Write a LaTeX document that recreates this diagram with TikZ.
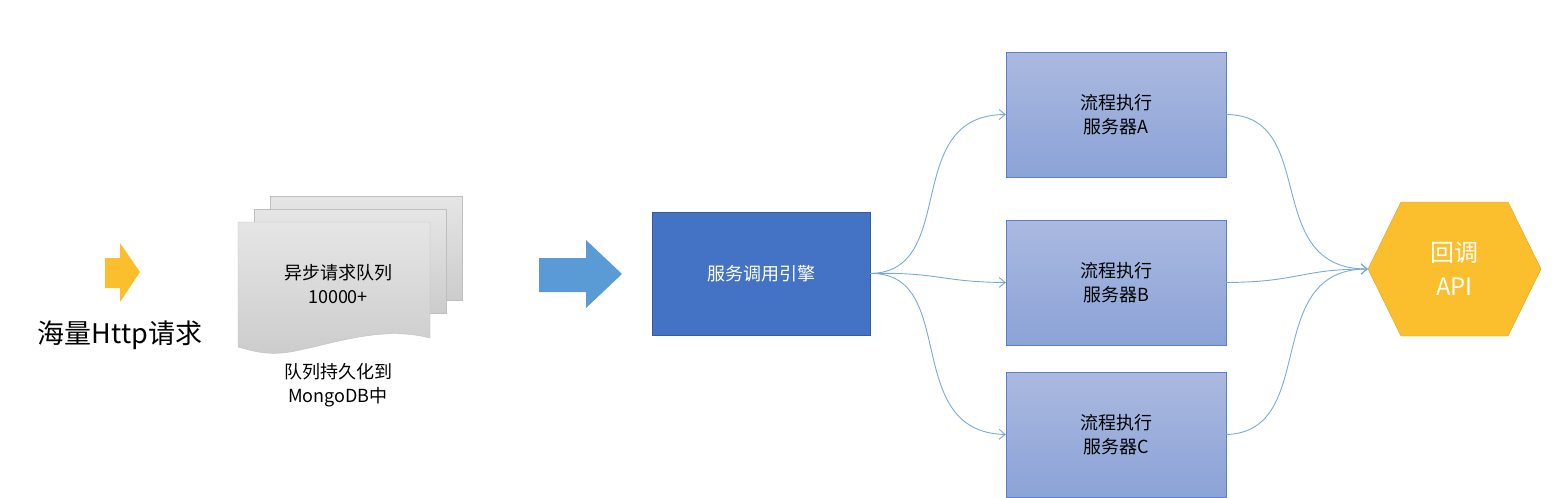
\documentclass[tikz,border=0pt]{standalone}
\usepackage{fontspec}
\newfontfamily\cjk{Noto Sans CJK SC}
\usetikzlibrary{arrows.meta,shapes.geometric}
\definecolor{qyellow}{RGB}{251,191,45}
\definecolor{qblue}{RGB}{91,155,213}
\definecolor{engblue}{RGB}{68,114,196}
\definecolor{srvtop}{RGB}{170,185,224}
\definecolor{srvbot}{RGB}{140,163,215}
\definecolor{srvline}{RGB}{91,127,208}
\definecolor{linkblue}{RGB}{122,170,220}
\tikzset{
  srv/.style={shape=rectangle,draw=srvline,top color=srvtop,bottom color=srvbot,minimum width=220pt,minimum height=125pt,align=center,font=\cjk\fontsize{18}{24}\selectfont},
  link/.style={draw=linkblue,line width=0.9pt,-{Straight Barb[length=6pt,width=10pt]}},
  sheet/.style={draw=gray!50,top color=gray!20,bottom color=gray!40}
}
\begin{document}
\begin{tikzpicture}[x=1pt,y=-1pt]
    \useasboundingbox (0,0) rectangle (1556,498);
    % input arrow and label
    \fill[qyellow] (105,258) -- (120,258) -- (120,243) -- (140,272) -- (120,302) -- (120,288) -- (105,288) -- cycle;
    \node (http) at (120,335) {\cjk\fontsize{27}{32}\selectfont 海量Http请求};
    % queue documents
    \path[sheet] (270,196) rectangle (462,300);
    \path[sheet] (254,209) rectangle (446,313);
    \path[sheet] (238,222) -- (430,222) -- (430,338) .. controls (380,325) and (330,345) .. (290,352) .. controls (265,356) and (250,350) .. (238,347) -- cycle;
    \node[align=center,font=\cjk\fontsize{18}{24}\selectfont] (queue) at (338,284) {异步请求队列\\10000+};
    \node[align=center,font=\cjk\fontsize{18}{24}\selectfont] (mongo) at (338,385) {队列持久化到\\MongoDB中};
    % big arrow
    \fill[qblue] (539,258) -- (586,258) -- (586,240) -- (622,274) -- (586,308) -- (586,292) -- (539,292) -- cycle;
    % engine
    \node[shape=rectangle,draw=engblue!80!black,fill=engblue,minimum width=218pt,minimum height=123pt,text=white,font=\cjk\fontsize{18}{24}\selectfont] (engine) at (761,273.5) {服务调用引擎};
    % servers
    \node[srv] (srvA) at (1116,114.5) {流程执行\\服务器A};
    \node[srv] (srvB) at (1116,282.5) {流程执行\\服务器B};
    \node[srv] (srvC) at (1116,434.5) {流程执行\\服务器C};
    % callback
    \filldraw[fill=qyellow,draw=qyellow!85!black] (1368,269) -- (1401,202) -- (1508,202) -- (1541,269) -- (1508,336) -- (1401,336) -- cycle;
    \node[shape=rectangle,minimum width=173pt,minimum height=134pt,inner sep=0pt,align=center,text=white,font=\cjk\fontsize{24}{34}\selectfont] (api) at (1454.5,269) {回调\\API};
    % links
    \draw[link] (engine.east) .. controls (960,272) and (900,115) .. (srvA.west);
    \draw[link] (engine.east) .. controls (940,272) and (940,282) .. (srvB.west);
    \draw[link] (engine.east) .. controls (960,272) and (900,432) .. (srvC.west);
    \draw[link] (srvA.east) .. controls (1320,115) and (1260,269) .. (api.west);
    \draw[link] (srvB.east) .. controls (1300,282) and (1300,269) .. (api.west);
    \draw[link] (srvC.east) .. controls (1320,432) and (1260,269) .. (api.west);
\end{tikzpicture}
\end{document}
